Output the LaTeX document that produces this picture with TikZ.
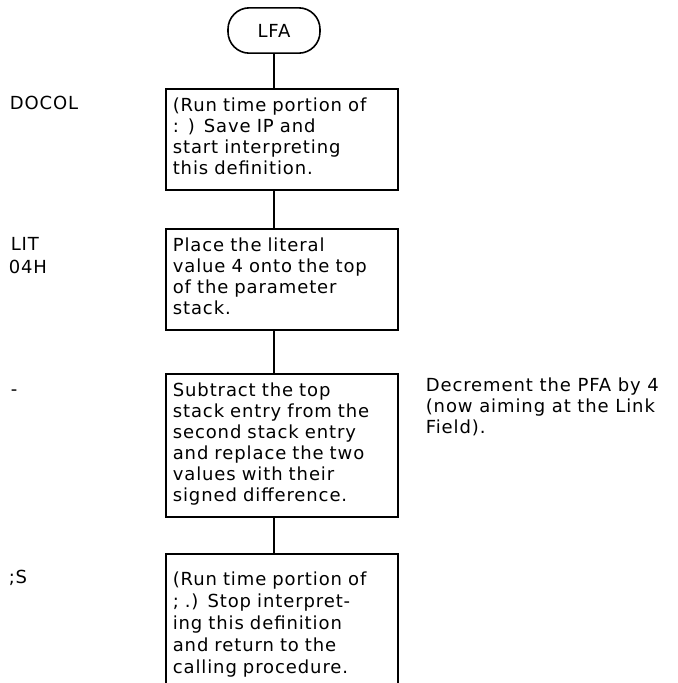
\documentclass[tikz,border=0pt]{standalone}
\usepackage{fontspec}
\setmainfont{DejaVu Sans}[LetterSpace=5]
\usetikzlibrary{positioning}

\begin{document}
\begin{tikzpicture}[
        x=0.75pt, y=-0.75pt,
        line width=1.2pt,
        font=\fontsize{13.5}{15.75}\selectfont,
        terminal/.style={draw, rectangle, rounded corners=16pt, minimum width=69pt, minimum height=34pt, inner sep=0pt},
        process/.style={draw, rectangle, anchor=north west, text width=163.5pt, align=left, inner xsep=5.25pt, inner ysep=6.75pt, execute at end node=\strut},
        word/.style={anchor=base west, inner sep=0pt},
        note/.style={anchor=north west, align=left, inner sep=0pt}
    ]
    \useasboundingbox (0,0) rectangle (678,683);

    % ==========================================
    % 1. FLOW COLUMN
    % ==========================================
    \node[terminal] (lfa) at (274,30.5) {LFA};
    \node[process] (docolbox) at (165,88) {(Run time portion of\\: ) Save IP and\\start interpreting\\this definition.};
    \node[process] (litbox)   at (165,228) {Place the literal\\value 4 onto the top\\of the parameter\\stack.};
    \node[process] (subbox)   at (165,373) {Subtract the top\\stack entry from the\\second stack entry\\and replace the two\\values with their\\signed difference.};
    \node[process, inner ysep=13.5pt, font=\fontsize{13.5}{16.5}\selectfont] (exitbox) at (165,553)
        {(Run time portion of\\; .) Stop interpret-\\ing this definition\\and return to the\\calling procedure.};

    % ==========================================
    % 2. WORD NAMES (LEFT)
    % ==========================================
    \node[word] (docol)  at (9,109) {DOCOL};
    \node[word] (lit)    at (10,250) {LIT};
    \node[word] (litval) at (8,273) {04H};
    \node[word] (minus)  at (10,395) {-};
    \node[word] (semis)  at (8,583) {;S};

    % ==========================================
    % 3. REMARK (RIGHT)
    % ==========================================
    \node[note] (pfanote) at (425,377) {Decrement the PFA by 4\\(now aiming at the Link\\Field).};

    % ==========================================
    % 4. CONNECTORS
    % ==========================================
    \draw (lfa.south) -- (lfa.south |- docolbox.north);
    \draw (docolbox.south -| lfa) -- (litbox.north -| lfa);
    \draw (litbox.south -| lfa) -- (subbox.north -| lfa);
    \draw (subbox.south -| lfa) -- (exitbox.north -| lfa);

\end{tikzpicture}
\end{document}
